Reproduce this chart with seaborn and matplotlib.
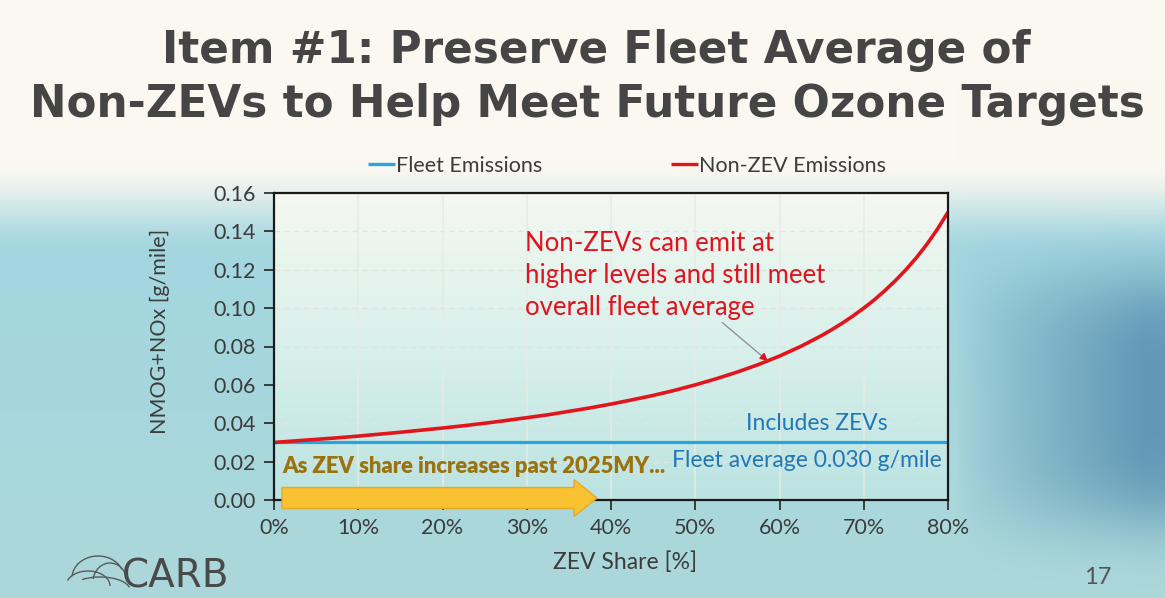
import numpy as np
import pandas as pd
import matplotlib
matplotlib.use("Agg")
import matplotlib.pyplot as plt
import seaborn as sns
from matplotlib.patches import FancyArrow, Arc
from matplotlib.transforms import IdentityTransform

# ---------------- data ----------------
zev_share = [0, 2.5, 5, 7.5, 10, 12.5, 15, 17.5, 20, 22.5, 25, 27.5, 30, 32.5, 35,
             37.5, 40, 42.5, 45, 47.5, 50, 52.5, 55, 57.5, 60, 62.5, 65, 66.25, 67.5,
             68.75, 70, 71.25, 72.5, 73.75, 75, 76.25, 77.5, 78.75, 80]
non_zev = [0.0300, 0.0308, 0.0316, 0.0324, 0.0333, 0.0343, 0.0353, 0.0364, 0.0375,
           0.0387, 0.0400, 0.0414, 0.0429, 0.0444, 0.0462, 0.0480, 0.0500, 0.0522,
           0.0545, 0.0571, 0.0600, 0.0632, 0.0667, 0.0706, 0.0750, 0.0800, 0.0857,
           0.0889, 0.0923, 0.0960, 0.1000, 0.1043, 0.1091, 0.1143, 0.1200, 0.1263,
           0.1333, 0.1412, 0.1500]
fleet_share = [0, 80]
fleet = [0.030, 0.030]
series_names = ["Fleet Emissions", "Non-ZEV Emissions"]
x_ticks = [0, 10, 20, 30, 40, 50, 60, 70, 80]
x_tick_labels = ["0%", "10%", "20%", "30%", "40%", "50%", "60%", "70%", "80%"]
y_ticks = [0.00, 0.02, 0.04, 0.06, 0.08, 0.10, 0.12, 0.14, 0.16]
y_tick_labels = ["0.00", "0.02", "0.04", "0.06", "0.08", "0.10", "0.12", "0.14", "0.16"]

df = pd.DataFrame({
    "share": fleet_share + zev_share,
    "value": fleet + non_zev,
    "series": [series_names[0]] * len(fleet) + [series_names[1]] * len(non_zev),
})

# ---------------- style ----------------
sns.set_theme(style="white")
plt.rcParams["font.family"] = ["Lato", "DejaVu Sans"]

W, H = 1165, 598
fig = plt.figure(figsize=(W / 100, H / 100), dpi=100)


def c(hexs):
    hexs = hexs.lstrip("#")
    return np.array([int(hexs[i:i + 2], 16) for i in (0, 2, 4)]) / 255


# background gradient (slide look)
yy, xx = np.mgrid[0:H, 0:W].astype(float)
cream = c("fbf8f1")
teal_top = c("a3d6df")
teal_bot = c("acd8da")
dark = c("5189ad")
t = np.clip((yy - 160) / 95, 0, 1)
t = t * t * (3 - 2 * t)
tv = np.clip((yy - 260) / (H - 260), 0, 1)
teal = teal_top[None, None, :] * (1 - tv[..., None]) + teal_bot[None, None, :] * tv[..., None]
base = cream[None, None, :] * (1 - t[..., None]) + teal * t[..., None]
rx = np.clip((xx - 955) / 190, 0, 1)
ry = np.exp(-(np.abs(yy - 400) / 130) ** 4)
r = (rx ** 0.8) * ry * 0.8
img = base * (1 - r[..., None]) + dark[None, None, :] * r[..., None]
fig.figimage(img, 0, 0, origin="upper", zorder=-10)

ax = fig.add_axes([274 / W, 1 - 500 / H, (948 - 274) / W, (500 - 193) / H])
ax.set_facecolor("none")

# plot-area gradient (near white at top to light teal at bottom)
gy = np.linspace(0, 1, 200)[:, None, None]
top_c = c("f4f8f1")
mid_c = c("d9f0eb")
bot_c = c("bbe3e1")
grad = np.where(gy < 0.5, top_c * (1 - gy / 0.5) + mid_c * (gy / 0.5),
                mid_c * (1 - (gy - 0.5) / 0.5) + bot_c * ((gy - 0.5) / 0.5))
grad = np.repeat(grad, 4, axis=1)
ax.imshow(grad, extent=[0, 80, 0, 0.16], aspect="auto", origin="upper", zorder=0)

palette = {series_names[0]: "#2aa4dc", series_names[1]: "#e2141c"}
sns.lineplot(data=df, x="share", y="value", hue="series", hue_order=series_names,
             palette=palette, ax=ax, linewidth=2.6, legend=True, zorder=5)
for ln in ax.get_lines():
    ln.set_solid_capstyle("butt")
ax.get_lines()[0].set_linewidth(2.3)

ax.set_xlim(0, 80)
ax.set_ylim(0, 0.16)
ax.set_xticks(x_ticks)
ax.set_xticklabels(x_tick_labels)
ax.set_yticks(y_ticks)
ax.set_yticklabels(y_tick_labels)
ax.tick_params(axis="both", which="major", labelsize=15.5, labelcolor="#3c3c3c",
               direction="out", length=7, width=1.2, color="#222222", pad=6,
               bottom=True, left=True)
for s in ax.spines.values():
    s.set_color("#1a1a1a")
    s.set_linewidth(1.6)
    s.set_zorder(6)

# grid
for xv in x_ticks[1:-1]:
    ax.axvline(xv, color="#e6ebe6", lw=1.1, alpha=0.95, zorder=1)
for yv in y_ticks[1:-1]:
    ax.axhline(yv, color="#e2e4e0", lw=1.0, ls=(0, (4, 3)), zorder=1)

ax.set_xlabel("ZEV Share [%]", fontsize=16.5, color="#3c3c3c")
ax.set_ylabel("NMOG+NOx [g/mile]", fontsize=15.5, color="#3c3c3c")
ax.xaxis.set_label_coords(0.521, -0.166)
ax.yaxis.set_label_coords(-0.154, 0.55)

leg = ax.legend(loc="lower center", bbox_to_anchor=(0.524, 1.0), ncol=2, frameon=False,
                fontsize=15.5, handlelength=1.25, handletextpad=0.05, columnspacing=6.0,
                borderaxespad=0.4)
for txt in leg.get_texts():
    txt.set_color("#3c3c3c")
for h in leg.get_lines():
    h.set_linewidth(2.4)

# annotations
ax.text(29.8, 0.1170, "Non-ZEVs can emit at\nhigher levels and still meet\noverall fleet average",
        fontsize=18.5, color="#e0141e", ha="left", va="center", linespacing=1.33, zorder=6)
ax.annotate("", xy=(58.6, 0.0725), xytext=(53.2, 0.0925),
            arrowprops=dict(arrowstyle="-|>", color="#8a8a8a", lw=0.9,
                            mutation_scale=11, shrinkA=0, shrinkB=0), zorder=6)
ax.annotate("", xy=(58.6, 0.0725), xytext=(57.9, 0.0752),
            arrowprops=dict(arrowstyle="-|>", color="#e0141e", lw=0.9,
                            mutation_scale=11, shrinkA=0, shrinkB=0), zorder=7)
ax.text(64.4, 0.040, "Includes ZEVs", fontsize=16.5, color="#1f78b8", ha="center",
        va="center", zorder=6)
ax.text(79.2, 0.0208, "Fleet average 0.030 g/mile", fontsize=16.5, color="#1f78b8",
        ha="right", va="center", zorder=6)
ax.text(1.0, 0.0175, "As ZEV share increases past 2025MY...", fontsize=15.8,
        fontweight="heavy", color="#9a7310", ha="left", va="center", zorder=8)

# yellow arrow (decorative)
arrow = FancyArrow(282, H - 498, 315, 0, width=21, head_width=37, head_length=23,
                   length_includes_head=True, transform=IdentityTransform(),
                   facecolor="#f8c232", edgecolor="#eba823", lw=1.0, zorder=20)
fig.add_artist(arrow)

# title
title_family = ["DejaVu Sans"]
fig.text(0.512, 1 - 50 / H, "Item #1: Preserve Fleet Average of", fontsize=31.5,
         fontweight="bold", color="#454545", ha="center", va="center", family=title_family)
fig.text(0.504, 1 - 104 / H, "Non-ZEVs to Help Meet Future Ozone Targets", fontsize=31.5,
         fontweight="bold", color="#454545", ha="center", va="center", family=title_family)

# footer
fig.text(122 / W, 1 - 596 / H, "CARB", fontsize=28, color="#4a4a4a", ha="left",
         va="bottom", family=["DejaVu Sans"])
for (cx, cy, w, h, t1, t2) in [(98, 20, 52, 44, 20, 175), (110, 16, 34, 38, 10, 170),
                               (88, 12, 44, 30, 0, 165), (100, 8, 60, 26, 5, 150)]:
    fig.add_artist(Arc((cx, cy), w, h, theta1=t1, theta2=t2, transform=IdentityTransform(),
                       color="#5a5a5a", lw=1.0))
fig.text(1098 / W, 1 - 578 / H, "17", fontsize=17, color="#555555", ha="center",
         va="center")

fig.savefig("out.png", dpi=100)
